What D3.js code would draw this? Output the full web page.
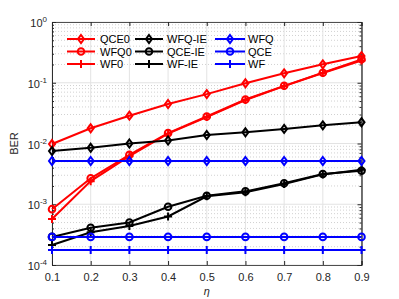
<!DOCTYPE html>
<html><head><meta charset="utf-8">
<script src="https://cdn.jsdelivr.net/npm/d3@7"></script>
<style>body{margin:0;background:#fff}svg{display:block}text{font-family:"Liberation Sans",Arial,Helvetica,sans-serif}</style>
</head><body>
<script>
const eta = [0.1,0.2,0.3,0.4,0.5,0.6,0.7,0.8,0.9];
const QCE0 = [0.0098,0.0178,0.0287,0.0447,0.065,0.098,0.143,0.201,0.275];
const WFQ0 = [8.3e-4,2.67e-3,6.5e-3,0.0148,0.0278,0.053,0.089,0.146,0.243];
const WF0  = [5.7e-4,2.4e-3,6.2e-3,0.0145,0.0272,0.052,0.088,0.145,0.233];
const WFQ_IE = [7.5e-3,8.5e-3,0.0100,0.0112,0.0138,0.0153,0.0174,0.0199,0.0224];
const QCE_IE = [2.9e-4,4.1e-4,5.0e-4,9.1e-4,1.38e-3,1.63e-3,2.21e-3,3.15e-3,3.56e-3];
const WF_IE  = [2.14e-4,3.45e-4,4.4e-4,6.3e-4,1.35e-3,1.58e-3,2.15e-3,3.1e-3,3.7e-3];
const WFQ = [5.15e-3,5.15e-3,5.15e-3,5.15e-3,5.15e-3,5.15e-3,5.15e-3,5.15e-3,5.15e-3];
const QCE = [2.9e-4,2.9e-4,2.9e-4,2.9e-4,2.9e-4,2.9e-4,2.9e-4,2.9e-4,2.9e-4];
const WF  = [1.77e-4,1.77e-4,1.77e-4,1.77e-4,1.77e-4,1.77e-4,1.77e-4,1.77e-4,1.77e-4];
const xTicks = [0.1,0.2,0.3,0.4,0.5,0.6,0.7,0.8,0.9];
const yExps = [0,-1,-2,-3,-4];

const series = [
  {name:"QCE0", v:QCE0, c:"#ff0000", m:"diamond"},
  {name:"WFQ0", v:WFQ0, c:"#ff0000", m:"circle"},
  {name:"WF0",  v:WF0,  c:"#ff0000", m:"plus"},
  {name:"WFQ-IE", v:WFQ_IE, c:"#000000", m:"diamond"},
  {name:"QCE-IE", v:QCE_IE, c:"#000000", m:"circle"},
  {name:"WF-IE",  v:WF_IE,  c:"#000000", m:"plus"},
  {name:"WFQ", v:WFQ, c:"#0000ff", m:"diamond"},
  {name:"QCE", v:QCE, c:"#0000ff", m:"circle"},
  {name:"WF",  v:WF,  c:"#0000ff", m:"plus"}
];

const W=399,H=299;
const L=52,R=361.5,T=22,B=265;
const svg=d3.select("body").append("svg").attr("width",W).attr("height",H);
const x=d3.scaleLinear().domain([0.1,0.9]).range([L,R]);
const y=d3.scaleLog().domain([1e-4,1]).range([B,T]);
const axc="#262626";

// grid
const g=svg.append("g");
const minors=[];
for(let e=-4;e<0;e++) for(let k=2;k<=9;k++) minors.push(k*Math.pow(10,e));
g.selectAll(".mn").data(minors).enter().append("line")
  .attr("x1",L).attr("x2",R).attr("y1",d=>y(d)).attr("y2",d=>y(d))
  .attr("stroke","#bdbdbd").attr("stroke-width",0.7).attr("stroke-dasharray","1,2");
g.selectAll(".mj").data(yExps.map(e=>Math.pow(10,e))).enter().append("line")
  .attr("x1",L).attr("x2",R).attr("y1",d=>y(d)).attr("y2",d=>y(d))
  .attr("stroke","#e3e3e3").attr("stroke-width",1);
g.selectAll(".vx").data(xTicks).enter().append("line")
  .attr("y1",T).attr("y2",B).attr("x1",d=>x(d)).attr("x2",d=>x(d))
  .attr("stroke","#e3e3e3").attr("stroke-width",1);

// axes
const xa=d3.axisBottom(x).tickValues(xTicks).tickFormat(d3.format(".1f")).tickSize(-4).tickPadding(8);
const xt=d3.axisTop(x).tickValues(xTicks).tickFormat("").tickSize(-4);
const ya=d3.axisLeft(y).tickValues(yExps.map(e=>Math.pow(10,e))).tickFormat("").tickSize(-4);
const yr=d3.axisRight(y).tickValues(yExps.map(e=>Math.pow(10,e))).tickFormat("").tickSize(-4);
const yam=d3.axisLeft(y).tickValues(minors).tickFormat("").tickSize(-2);
const yrm=d3.axisRight(y).tickValues(minors).tickFormat("").tickSize(-2);
function style(s){s.selectAll("path,line").attr("stroke",axc);s.selectAll("text").attr("fill",axc).attr("font-size",11);}
svg.append("g").attr("transform",`translate(0,${B})`).call(xa).call(style);
svg.append("g").attr("transform",`translate(0,${T})`).call(xt).call(style);
svg.append("g").attr("transform",`translate(${L},0)`).call(ya).call(style);
svg.append("g").attr("transform",`translate(${R},0)`).call(yr).call(style);
svg.append("g").attr("transform",`translate(${L},0)`).call(yam).call(style);
svg.append("g").attr("transform",`translate(${R},0)`).call(yrm).call(style);
svg.selectAll(".domain").attr("stroke",axc).attr("stroke-width",0.8);

// y tick labels with superscript
const yl=svg.append("g");
yExps.forEach(e=>{
  const t=yl.append("text").attr("x",L-5).attr("y",y(Math.pow(10,e))+5)
    .attr("text-anchor","end").attr("fill",axc).attr("font-size",11);
  t.append("tspan").text("10");
  t.append("tspan").attr("dy",-5).attr("font-size",8).text(e);
});
svg.append("text").attr("transform",`translate(18,${(T+B)/2}) rotate(-90)`)
  .attr("text-anchor","middle").attr("fill",axc).attr("font-size",11).text("BER");
svg.append("text").attr("x",(L+R)/2).attr("y",295).attr("text-anchor","middle")
  .attr("fill",axc).attr("font-size",11).attr("font-style","italic")
  .attr("font-family","DejaVu Serif, serif").text("η");

// marker drawing
function marker(sel,m,c,cx,cy){
  if(m==="diamond"){
    sel.append("path").attr("d",`M${cx},${cy-4}L${cx+3},${cy}L${cx},${cy+4}L${cx-3},${cy}Z`)
      .attr("fill","none").attr("stroke",c).attr("stroke-width",2);
  } else if(m==="circle"){
    sel.append("circle").attr("cx",cx).attr("cy",cy).attr("r",3.3)
      .attr("fill","none").attr("stroke",c).attr("stroke-width",2);
  } else {
    sel.append("path").attr("d",`M${cx-4},${cy}H${cx+4}M${cx},${cy-4}V${cy+4}`)
      .attr("stroke",c).attr("stroke-width",2);
  }
}

const line=d3.line().x((d,i)=>x(eta[i])).y(d=>y(d));
const pg=svg.append("g");
series.forEach(s=>{
  pg.append("path").attr("d",line(s.v)).attr("fill","none").attr("stroke",s.c).attr("stroke-width",2);
  s.v.forEach((v,i)=>marker(pg,s.m,s.c,x(eta[i]),y(v)));
});

// legend
const cols=[{x1:67,x2:95,tx:100},{x1:135,x2:163,tx:167},{x1:215,x2:245,tx:248}];
const rows=[39,51.5,64];
const lg=svg.append("g");
series.forEach((s,i)=>{
  const c=cols[Math.floor(i/3)], ry=rows[i%3];
  lg.append("line").attr("x1",c.x1).attr("x2",c.x2).attr("y1",ry).attr("y2",ry).attr("stroke",s.c).attr("stroke-width",2);
  marker(lg,s.m,s.c,(c.x1+c.x2)/2,ry);
  lg.append("text").attr("x",c.tx).attr("y",ry+4).attr("fill","#000").attr("font-size",11).text(s.name);
});
</script>
</body></html>
